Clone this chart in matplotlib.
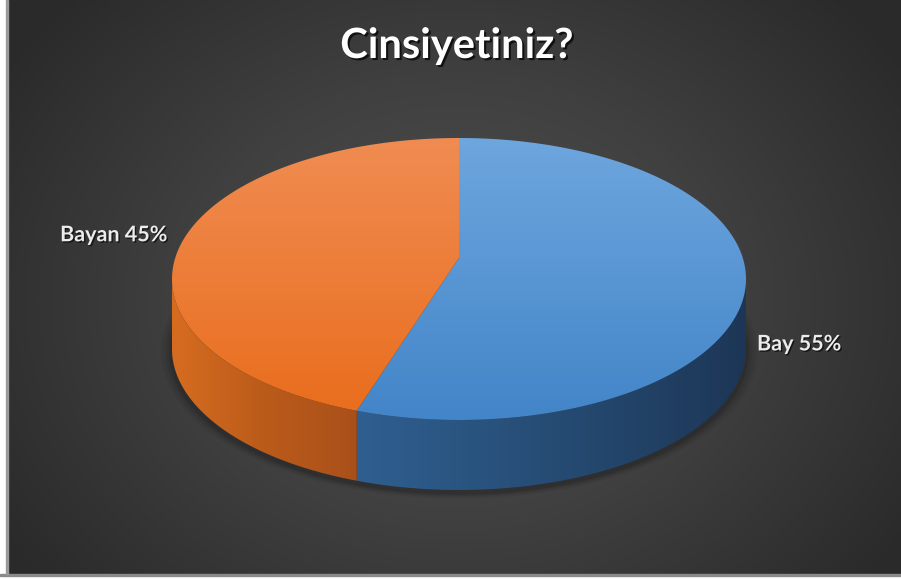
import numpy as np
import matplotlib
matplotlib.use("Agg")
from matplotlib import pyplot as plt
from matplotlib.patches import Polygon, Rectangle
from matplotlib import patheffects as pe

# data
labels = ["Bay", "Bayan"]
values = [55, 45]
top_colors = [("#6ea6de", "#4285c8"), ("#f08c52", "#e96d1c")]
side_colors = [["#2f5f90", "#264c74", "#1d3656"], ["#d66c20", "#bb5b1a", "#a9501a"]]
title = "Cinsiyetiniz?"

W, H = 901, 580
cx, cy, a, b, depth = 459, 279, 287, 141, 70
view = 0.15  # perspective: pie centre sits above the ellipse centre


def ell(t, dy=0.0):
    # t in degrees, clockwise from 12 o'clock on the disc; y axis points down
    r = np.radians(t)
    den = 1 + view * np.cos(r)
    X = np.sin(r) * np.sqrt(1 - view ** 2) / den
    Y = (np.cos(r) + view) / den
    return cx + a * X, cy - b * Y + dy


def mix(stops, f):
    stops = np.array([matplotlib.colors.to_rgb(c) for c in stops])
    pos = np.linspace(0, 1, len(stops))
    return np.stack([np.interp(f, pos, stops[:, k]) for k in range(3)], axis=-1)


def grad_fill(ax, pts, stops, horizontal, box, z):
    x0, x1, y0, y1 = box
    f = np.linspace(0, 1, 200)
    if horizontal:
        img = np.tile(mix(stops, f)[None, :, :], (2, 1, 1))
    else:
        img = np.tile(mix(stops, f)[:, None, :], (1, 2, 1))
    im = ax.imshow(img, extent=(x0, x1, y1, y0), aspect="auto", zorder=z,
                   interpolation="bilinear")
    clip = Polygon(pts, closed=True, facecolor="none", edgecolor="none", zorder=z)
    ax.add_patch(clip)
    im.set_clip_path(clip)


fig = plt.figure(figsize=(W / 100, H / 100), dpi=100, facecolor="white")
ax = fig.add_axes([0, 0, 1, 1])
ax.axis("off")

# dark radial background
bx0, bx1, by0, by1 = 8, W, 0, 574
yy, xx = np.mgrid[by0:by1:2, bx0:bx1:2]
d = np.sqrt(((xx - 455) / 540) ** 2 + ((yy - 300) / 440) ** 2)
d = np.clip(d, 0, 1)
bg = mix(["#515151", "#404040", "#2a2a2a"], d)
ax.imshow(bg, extent=(bx0, bx1, by1, by0), aspect="auto", zorder=0)
ax.add_patch(Rectangle((0, by1), W, 2, color="#8a8a8a", zorder=1))
ax.add_patch(Rectangle((6, 0), 2, by1, color="#9a9a9a", zorder=1))

# soft shadow under the pie
t = np.linspace(0, 360, 240)
for i, al in enumerate([0.04, 0.05, 0.07, 0.1]):
    s = 1.0 + 0.01 * (4 - i)
    ax.add_patch(Polygon(np.c_[cx + a * s * np.sin(np.radians(t)),
                               cy + depth + 3 - b * s * np.cos(np.radians(t))],
                         closed=True, color="black", alpha=al, lw=0, zorder=2))

# slice angles
total = float(sum(values))
starts = np.cumsum([0] + values[:-1]) / total * 360
ends = np.cumsum(values) / total * 360
# visible front edge of the disc
t_right = np.degrees(np.arccos(-view))
t_left = 360 - t_right

for i in range(len(values)):
    t0, t1 = starts[i], ends[i]
    s0, s1 = max(t0, t_right), min(t1, t_left)
    if s1 > s0:
        tt = np.linspace(s0, s1, 160)
        ex, ey = ell(tt)
        pts = np.r_[np.c_[ex, ey], np.c_[ex[::-1], ey[::-1] + depth]]
        grad_fill(ax, pts, side_colors[i], True, (ex.min(), ex.max(), ey.min(), ey.max() + depth), 3)
    # top face
    tt = np.linspace(t0, t1, 240)
    ex, ey = ell(tt)
    pts = np.r_[[[cx, cy - b * view]], np.c_[ex, ey]]
    grad_fill(ax, pts, top_colors[i], False, (cx - a, cx + a, cy - b, cy + b), 4)

# labels
txt_fx = [pe.withSimplePatchShadow(offset=(1, -1), shadow_rgbFace="black", alpha=0.6)]
for i in range(len(values)):
    mid = (starts[i] + ends[i]) / 2
    ex, ey = ell(mid)
    pct = f"{labels[i]} {values[i] / total * 100:.0f}%"
    if np.sin(np.radians(mid)) >= 0:
        ax.text(ex + 11, ey + 64, pct, ha="left", va="center", color="#ececec",
                fontsize=15.5, fontweight="bold", family="Lato", path_effects=txt_fx)
    else:
        ax.text(ex - 18, ey - 2, pct, ha="right", va="center", color="#ececec",
                fontsize=15.5, fontweight="bold", family="Lato", path_effects=txt_fx)

ax.text(457, 46, title, ha="center", va="center", color="white", fontsize=30,
        fontweight="bold", family="Lato",
        path_effects=[pe.withSimplePatchShadow(offset=(1.5, -1.5), shadow_rgbFace="black", alpha=0.7)])

ax.set_xlim(0, W)
ax.set_ylim(H, 0)
fig.savefig("out.png", dpi=100, facecolor="white")
